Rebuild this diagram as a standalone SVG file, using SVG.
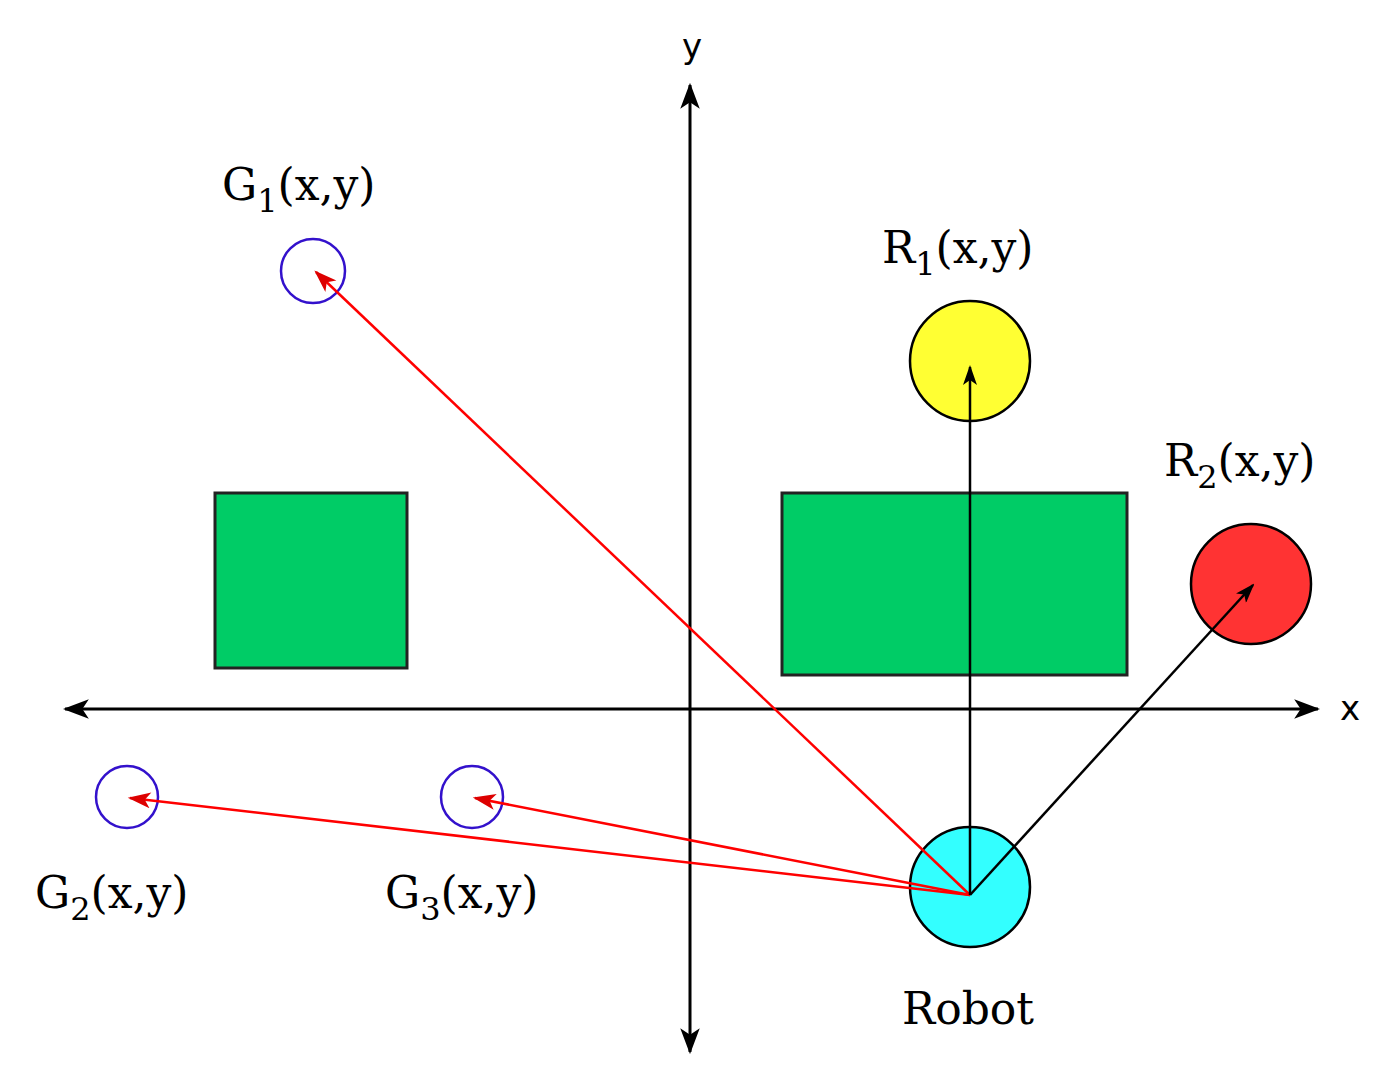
<svg xmlns="http://www.w3.org/2000/svg" width="1393" height="1080" viewBox="0 0 1393 1080">
<style>
.t{font-family:"DejaVu Serif","Liberation Serif",serif;font-size:44px;fill:#000}
.ax{font-family:"DejaVu Sans","Liberation Sans",sans-serif;font-size:34px}
.obs{fill:#00cc66;stroke:#222;stroke-width:3}
.g{fill:none;stroke:#3311cc;stroke-width:2.5}
.r{stroke:#f00;stroke-width:2.5;fill:none}
.k{stroke:#000;stroke-width:2.5;fill:none}
</style>
<defs>
<marker id="ah" viewBox="0 0 20 14" refX="18" refY="7" markerWidth="20" markerHeight="14" markerUnits="userSpaceOnUse" orient="auto"><path d="M0,0 L20,7 L0,14 L5,7 Z" fill="#000"/></marker>
<marker id="rh" viewBox="0 0 20 14" refX="18" refY="7" markerWidth="24" markerHeight="16" markerUnits="userSpaceOnUse" orient="auto"><path d="M0,0 L20,7 L0,14 L5,7 Z" fill="#d00"/></marker>
<marker id="axh" viewBox="0 0 24 18" refX="22" refY="9" markerWidth="26" markerHeight="20" markerUnits="userSpaceOnUse" orient="auto"><path d="M0,0 L24,9 L0,18 L6,9 Z" fill="#000"/></marker>
</defs>
<rect width="1393" height="1080" fill="#fff"/>
<g id="obstacle1"><rect class="obs" x="215" y="493" width="192" height="175"/></g>
<g id="obstacle2"><rect class="obs" x="782" y="493" width="345" height="182"/></g>
<g id="axes">
<line x1="690" y1="709" x2="1318" y2="709" stroke="#000" stroke-width="3" marker-end="url(#axh)"/>
<line x1="690" y1="709" x2="65" y2="709" stroke="#000" stroke-width="3" marker-end="url(#axh)"/>
<line x1="690" y1="709" x2="690" y2="85" stroke="#000" stroke-width="3" marker-end="url(#axh)"/>
<line x1="690" y1="709" x2="690" y2="1052" stroke="#000" stroke-width="3" marker-end="url(#axh)"/>
<text class="ax" x="1350" y="720" text-anchor="middle">x</text>
<text class="ax" x="692" y="58" text-anchor="middle">y</text>
</g>
<g id="G1"><circle class="g" cx="313" cy="271" r="32"/><text class="t" x="222" y="200">G<tspan font-size="32" dy="12">1</tspan><tspan dy="-12">(x,y)</tspan></text></g>
<g id="G2"><circle class="g" cx="127" cy="797" r="31"/><text class="t" x="35" y="908">G<tspan font-size="32" dy="12">2</tspan><tspan dy="-12">(x,y)</tspan></text></g>
<g id="G3"><circle class="g" cx="472" cy="797" r="31"/><text class="t" x="385" y="908">G<tspan font-size="32" dy="12">3</tspan><tspan dy="-12">(x,y)</tspan></text></g>
<g id="R1"><circle cx="970" cy="361" r="60" fill="#ffff33" stroke="#000" stroke-width="2.5"/><text class="t" x="882" y="263">R<tspan font-size="32" dy="12">1</tspan><tspan dy="-12">(x,y)</tspan></text></g>
<g id="R2"><circle cx="1251" cy="584" r="60" fill="#ff3333" stroke="#000" stroke-width="2.5"/><text class="t" x="1164" y="476">R<tspan font-size="32" dy="12">2</tspan><tspan dy="-12">(x,y)</tspan></text></g>
<g id="Robot"><circle cx="970" cy="887" r="60" fill="#33ffff" stroke="#000" stroke-width="2.5"/><text class="t" x="968" y="1024" text-anchor="middle">Robot</text></g>
<g id="connectors">
<line class="r" x1="970" y1="895" x2="316" y2="272" marker-end="url(#rh)"/>
<line class="r" x1="970" y1="895" x2="130" y2="798" marker-end="url(#rh)"/>
<line class="r" x1="970" y1="895" x2="475" y2="798" marker-end="url(#rh)"/>
<line class="k" x1="970" y1="895" x2="970" y2="367" marker-end="url(#ah)"/>
<line class="k" x1="970" y1="895" x2="1253" y2="585" marker-end="url(#ah)"/>
</g>
</svg>
